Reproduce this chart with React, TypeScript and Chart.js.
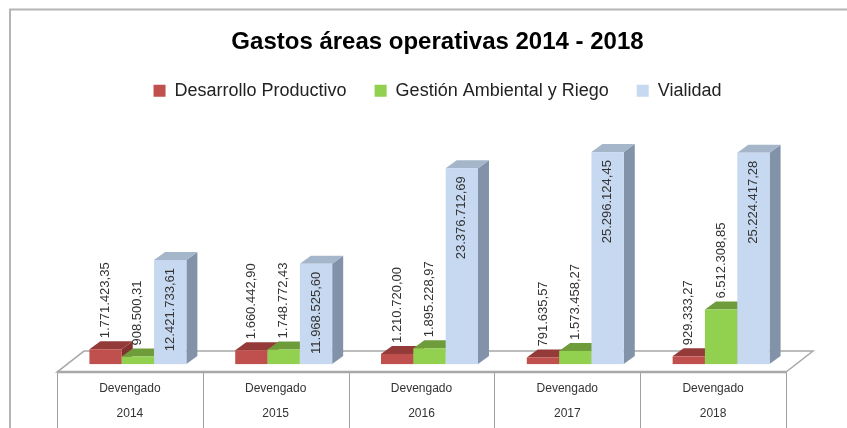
import React, { useEffect, useRef } from "react";
import { Chart, registerables } from "chart.js";

Chart.register(...registerables);

const titleText = "Gastos áreas operativas 2014 - 2018";
const rowLabel = "Devengado";
const years = ["2014", "2015", "2016", "2017", "2018"];
const seriesNames = ["Desarrollo Productivo", "Gestión Ambiental y Riego", "Vialidad"];
const desarrolloProductivo = [1771423.35, 1660442.9, 1210720.0, 791635.57, 929333.27];
const gestionAmbiental = [908500.31, 1748772.43, 1895228.97, 1573458.27, 6512308.85];
const vialidad = [12421733.61, 11968525.6, 23376712.69, 25296124.45, 25224417.28];
const yMax = 31300000;

const FRONT = ["#C0504D", "#92D050", "#C6D9F1"];
const TOP = ["#943B39", "#6E9C3A", "#A6B6CA"];
const SIDE = ["#813230", "#5C882E", "#8192A9"];
const FONT = "'Liberation Sans', Arial, sans-serif";

function fmt(v: number): string {
  const [i, d] = v.toFixed(2).split(".");
  return i.replace(/\B(?=(\d{3})+(?!\d))/g, ".") + "," + d;
}

const depthPlugin = {
  id: "depth3d",
  beforeDraw(chart: any) {
    const ctx = chart.ctx;
    ctx.save();
    ctx.strokeStyle = "#b4b4b4";
    ctx.lineWidth = 2;
    ctx.beginPath();
    ctx.moveTo(10, 500);
    ctx.lineTo(10, 9.5);
    ctx.lineTo(900, 9.5);
    ctx.stroke();
    ctx.restore();
  },
  beforeDatasetsDraw(chart: any) {
    const ctx = chart.ctx;
    const a = chart.chartArea;
    const n = chart.data.labels.length;
    const cw = (a.right - a.left) / n;
    ctx.save();
    // table cell lines
    ctx.strokeStyle = "#a0a0a0";
    ctx.lineWidth = 1;
    ctx.beginPath();
    for (let i = 0; i <= n; i++) {
      const x = Math.round(a.left + i * cw) + 0.5;
      ctx.moveTo(x, a.bottom);
      ctx.lineTo(x, chart.height);
    }
    ctx.stroke();
    // floor
    const fx = 27, fy = 21;
    ctx.fillStyle = "#ffffff";
    ctx.strokeStyle = "#a8a8a8";
    ctx.lineWidth = 1.5;
    ctx.beginPath();
    ctx.moveTo(a.left, a.bottom);
    ctx.lineTo(a.left + fx, a.bottom - fy);
    ctx.lineTo(a.right + fx, a.bottom - fy);
    ctx.lineTo(a.right, a.bottom);
    ctx.closePath();
    ctx.fill();
    ctx.stroke();
    ctx.lineWidth = 2.5;
    ctx.beginPath();
    ctx.moveTo(a.left, a.bottom);
    ctx.lineTo(a.right, a.bottom);
    ctx.stroke();

    // bars
    const items: any[] = [];
    chart.data.datasets.forEach((ds: any, di: number) => {
      if (!chart.isDatasetVisible(di)) return;
      const meta = chart.getDatasetMeta(di);
      meta.data.forEach((el: any, i: number) => items.push({ el, di, i, v: ds.data[i] }));
    });
    items.sort((p, q) => p.el.x - q.el.x);
    const ox = 8, oy = 8, bx = 11, by = 8;
    for (const it of items) {
      const { el, di } = it;
      const x0 = el.x - el.width / 2 + ox;
      const x1 = el.x + el.width / 2 + ox;
      const yT = el.y - oy;
      const yB = el.base - oy;
      ctx.fillStyle = SIDE[di];
      ctx.beginPath();
      ctx.moveTo(x1, yT);
      ctx.lineTo(x1 + bx, yT - by);
      ctx.lineTo(x1 + bx, yB - by);
      ctx.lineTo(x1, yB);
      ctx.closePath();
      ctx.fill();
      ctx.fillStyle = TOP[di];
      ctx.beginPath();
      ctx.moveTo(x0, yT);
      ctx.lineTo(x0 + bx, yT - by);
      ctx.lineTo(x1 + bx, yT - by);
      ctx.lineTo(x1, yT);
      ctx.closePath();
      ctx.fill();
      ctx.fillStyle = FRONT[di];
      ctx.fillRect(x0, yT, x1 - x0, yB - yT);
    }
    // value labels
    ctx.fillStyle = "#333333";
    ctx.font = "13px " + FONT;
    ctx.textBaseline = "middle";
    for (const it of items) {
      const { el, di, v } = it;
      const cx = el.x + ox;
      const yT = el.y - oy;
      ctx.save();
      if (di === 2) {
        ctx.translate(cx, yT + 8);
        ctx.rotate(-Math.PI / 2);
        ctx.textAlign = "right";
      } else {
        ctx.translate(cx, yT - 11);
        ctx.rotate(-Math.PI / 2);
        ctx.textAlign = "left";
      }
      ctx.fillText(fmt(v), 0, 0);
      ctx.restore();
    }
    ctx.restore();
    return false;
  },
};

export default function App() {
  const ref = useRef<HTMLCanvasElement | null>(null);
  useEffect(() => {
    if (!ref.current) return;
    const chart = new Chart(ref.current, {
      type: "bar",
      data: {
        labels: years.map((y) => [rowLabel, y]),
        datasets: [
          { label: seriesNames[0], data: desarrolloProductivo, backgroundColor: FRONT[0], borderWidth: 0 },
          { label: seriesNames[1], data: gestionAmbiental, backgroundColor: FRONT[1], borderWidth: 0 },
          { label: seriesNames[2], data: vialidad, backgroundColor: FRONT[2], borderWidth: 0 },
        ],
      },
      options: {
        responsive: false,
        animation: false,
        devicePixelRatio: 1,
        layout: { padding: { left: 57, right: 29, top: 0, bottom: -2.5 } },
        datasets: { bar: { categoryPercentage: 0.665, barPercentage: 1 } },
        plugins: {
          title: {
            display: true,
            text: titleText,
            color: "#000000",
            font: { family: FONT, size: 24, weight: "bold" },
            padding: { top: 28, bottom: -3 },
          },
          legend: {
            position: "top",
            labels: {
              boxWidth: 12,
              boxHeight: 12,
              padding: 28,
              color: "#222222",
              font: { family: FONT, size: 18 },
            },
          },
          tooltip: { enabled: false },
        },
        scales: {
          x: {
            grid: { display: false, drawTicks: false },
            border: { display: false },
            ticks: {
              color: "#333333",
              font: { family: FONT, size: 12, lineHeight: 2.1 },
              padding: 4,
              maxRotation: 0,
              autoSkip: false,
            },
          },
          y: {
            position: "right",
            min: 0,
            max: yMax,
            grid: { display: false },
            border: { display: false },
            ticks: { display: false },
            afterFit: (s: any) => {
              s.width = 32;
            },
          },
        },
      } as any,
      plugins: [depthPlugin],
    });
    return () => chart.destroy();
  }, []);
  return (
    <div style={{ position: "fixed", left: 0, top: 0, width: 847, height: 428, background: "#fff" }}>
      <canvas ref={ref} width={847} height={428} style={{ display: "block" }} />
    </div>
  );
}
